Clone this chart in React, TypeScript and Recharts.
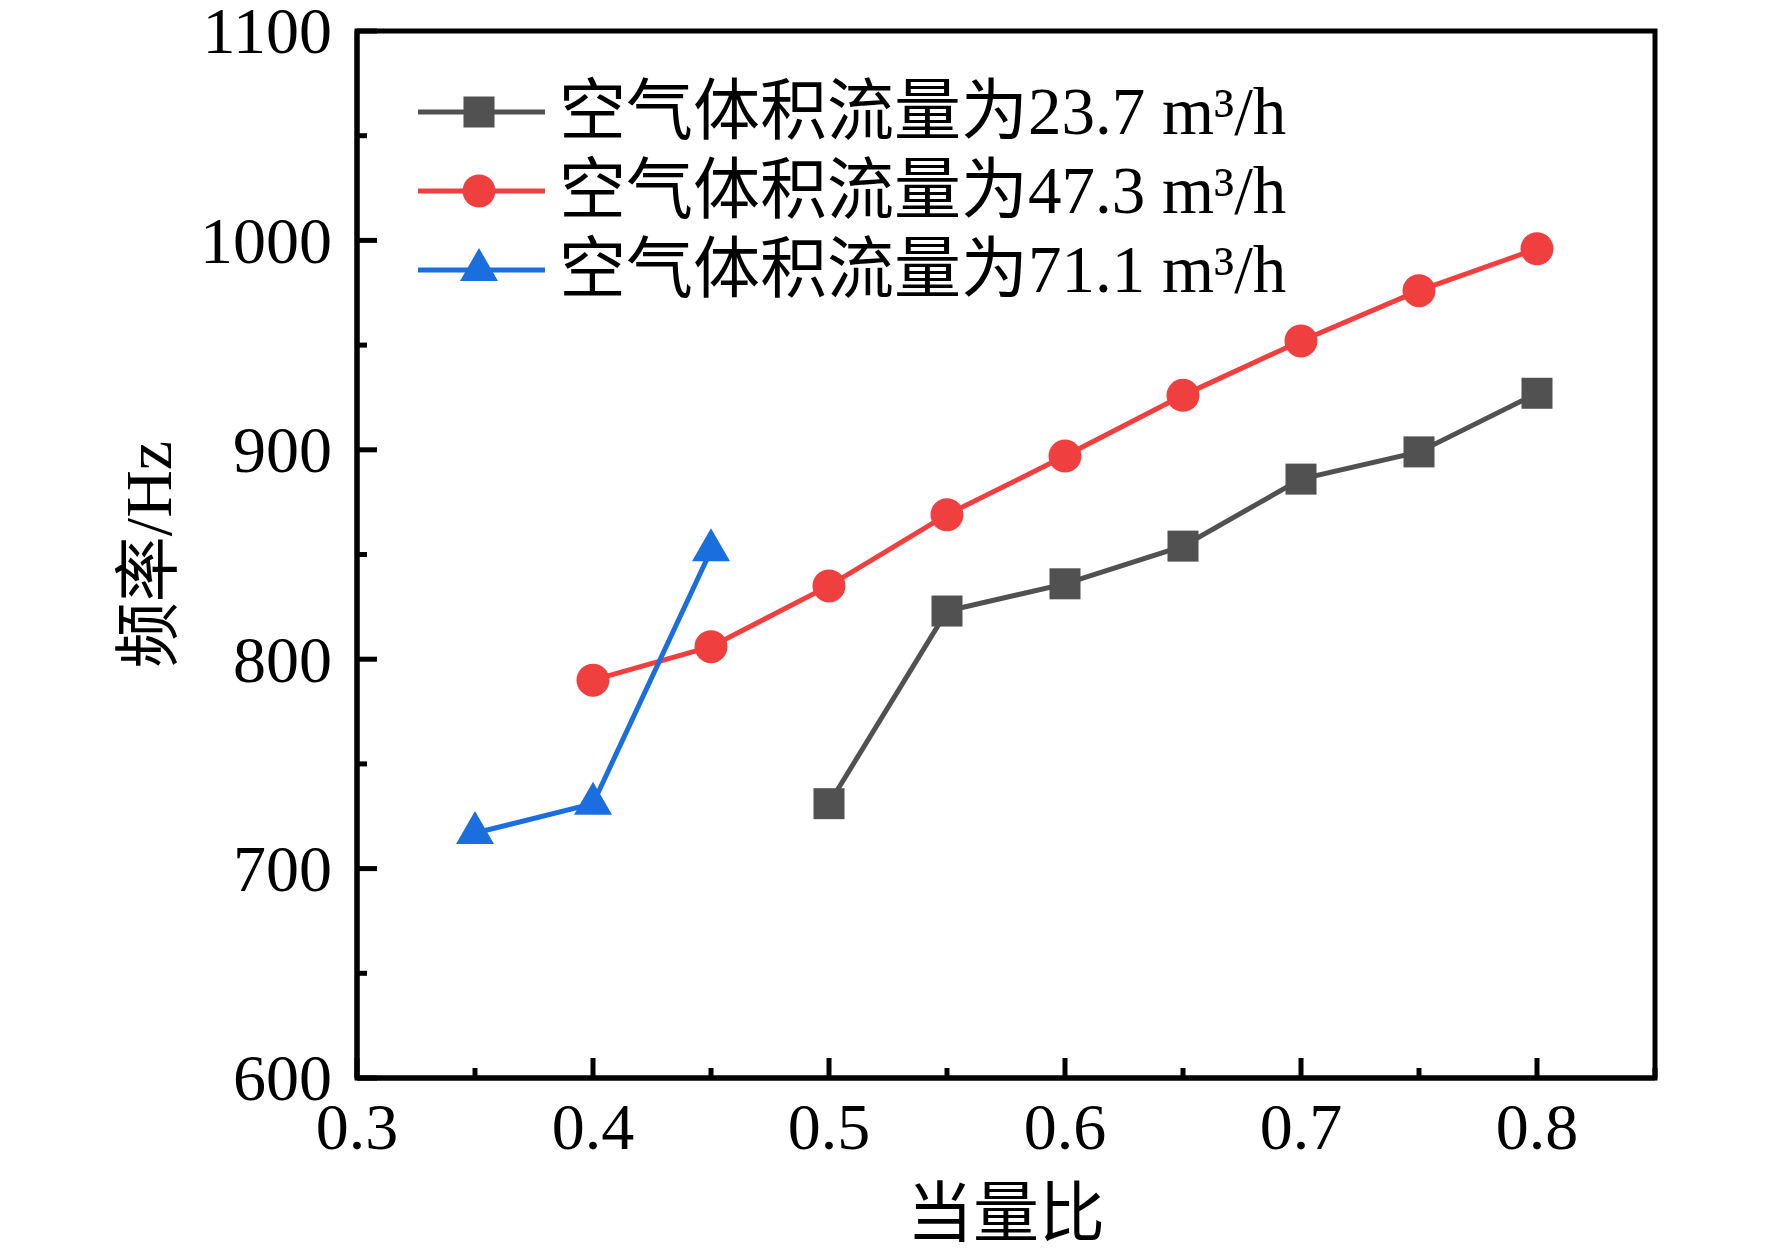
import { LineChart, Line, XAxis, YAxis, Legend, Label, ReferenceArea } from 'recharts';

const ratios = [0.35, 0.4, 0.45, 0.5, 0.55, 0.6, 0.65, 0.7, 0.75, 0.8];
const flow237 = [null, null, null, 731, 823, 836, 854, 886, 899, 927];
const flow473 = [null, 790, 806, 835, 869, 897, 926, 952, 976, 996];
const flow711 = [717, 731, 852, null, null, null, null, null, null, null];

const seriesNames = ['空气体积流量为23.7 m³/h', '空气体积流量为47.3 m³/h', '空气体积流量为71.1 m³/h'];
const seriesKeys = ['f237', 'f473', 'f711'];
const seriesColors = ['#515151', '#EF3F3F', '#1A6EDE'];
const seriesShapes = ['square', 'circle', 'triangle'];

const xTicks = [0.3, 0.35, 0.4, 0.45, 0.5, 0.55, 0.6, 0.65, 0.7, 0.75, 0.8, 0.85];
const yTicks = [600, 650, 700, 750, 800, 850, 900, 950, 1000, 1050, 1100];

const data = ratios.map((r, i) => ({ x: r, f237: flow237[i], f473: flow473[i], f711: flow711[i] }));

const SERIF = '"Liberation Serif", "Times New Roman", "Noto Sans CJK SC", serif';
const MIXED = '"Liberation Serif", "Noto Sans CJK SC", serif';

// marker drawn around (cx, cy)
const Marker = ({ shape, cx, cy, color }: any) => {
  if (shape === 'square') {
    return <rect x={cx - 15.5} y={cy - 15.5} width={31} height={31} fill={color} />;
  }
  if (shape === 'circle') {
    return <circle cx={cx} cy={cy} r={16.5} fill={color} />;
  }
  return <polygon points={`${cx},${cy - 22} ${cx - 19},${cy + 11} ${cx + 19},${cy + 11}`} fill={color} />;
};

const makeDot = (shape: string, color: string) => (props: any) => {
  const { cx, cy, index } = props;
  if (cx == null || cy == null || props.value == null) return <g key={`d-${index}`} />;
  return (
    <g key={`d-${index}`}>
      <Marker shape={shape} cx={cx} cy={cy} color={color} />
    </g>
  );
};

const XTick = ({ x, y, payload }: any) => {
  const v = payload.value;
  const major = Math.round(v * 100) % 10 === 0;
  return (
    <g>
      <line x1={x} x2={x} y1={y} y2={y - (major ? 20 : 10)} stroke="#000" strokeWidth={5} />
      {major && (
        <text x={x} y={y + 71} textAnchor="middle" fontFamily={SERIF} fontSize={66} fill="#000">
          {v.toFixed(1)}
        </text>
      )}
    </g>
  );
};

const YTick = ({ x, y, payload }: any) => {
  const v = payload.value;
  const major = v % 100 === 0;
  return (
    <g>
      <line x1={x} x2={x + (major ? 20 : 10)} y1={y} y2={y} stroke="#000" strokeWidth={5} />
      {major && (
        <text x={x - 25} y={y} dy="0.34em" textAnchor="end" fontFamily={SERIF} fontSize={66} fill="#000">
          {v}
        </text>
      )}
    </g>
  );
};

const renderLegend = () => (
  <div style={{ fontFamily: MIXED, fontSize: 67, color: '#000' }}>
    {seriesNames.map((name, i) => (
      <div key={name} style={{ display: 'flex', alignItems: 'center', height: 79 }}>
        <svg width={127} height={46}>
          <line x1={0} x2={127} y1={23} y2={23} stroke={seriesColors[i]} strokeWidth={5} />
          <Marker shape={seriesShapes[i]} cx={61} cy={23} color={seriesColors[i]} />
        </svg>
        <span style={{ marginLeft: 14, whiteSpace: 'nowrap', lineHeight: '79px' }}>{name}</span>
      </div>
    ))}
  </div>
);

export default function App() {
  return (
    <div style={{ position: 'absolute', left: 0, top: 0, width: 1772, height: 1251, background: '#fff' }}>
      <LineChart width={1772} height={1251} data={data} margin={{ top: 31, right: 117, bottom: 0, left: 0 }}>
        <XAxis
          dataKey="x"
          type="number"
          domain={[0.3, 0.85]}
          ticks={xTicks}
          interval={0}
          height={173}
          tickSize={0}
          tickMargin={0}
          tickLine={false}
          axisLine={{ stroke: '#000', strokeWidth: 5 }}
          tick={<XTick />}
          label={
            <Label
              content={(props: any) => {
                const vb = props.viewBox;
                return (
                  <text x={vb.x + vb.width / 2} y={vb.y + 158} textAnchor="middle" fontFamily={MIXED} fontSize={66} fill="#000">
                    当量比
                  </text>
                );
              }}
            />
          }
        />
        <YAxis
          type="number"
          domain={[600, 1100]}
          ticks={yTicks}
          interval={0}
          width={357}
          tickSize={0}
          tickMargin={0}
          tickLine={false}
          axisLine={{ stroke: '#000', strokeWidth: 5 }}
          tick={<YTick />}
          label={
            <Label
              content={(props: any) => {
                const vb = props.viewBox;
                const cx = 148;
                const cy = vb.y + vb.height / 2;
                return (
                  <text x={cx} y={cy} transform={`rotate(-90 ${cx} ${cy})`} textAnchor="middle" dominantBaseline="central" fontFamily={MIXED} fontSize={66} fill="#000">
                    频率/Hz
                  </text>
                );
              }}
            />
          }
        />
        {/* frame around the plot */}
        <ReferenceArea x1={0.3} x2={0.85} y1={600} y2={1100} fill="none" stroke="#000" strokeWidth={5} ifOverflow="visible" />
        <Legend
          layout="horizontal"
          verticalAlign="middle"
          align="center"
          content={renderLegend}
          wrapperStyle={{ left: 418, top: 72, width: 'auto', height: 'auto' }}
        />
        {seriesKeys.map((k, i) => (
          <Line
            key={k}
            dataKey={k}
            name={seriesNames[i]}
            stroke={seriesColors[i]}
            strokeWidth={5}
            dot={makeDot(seriesShapes[i], seriesColors[i])}
            activeDot={false}
            isAnimationActive={false}
          />
        ))}
      </LineChart>
    </div>
  );
}
